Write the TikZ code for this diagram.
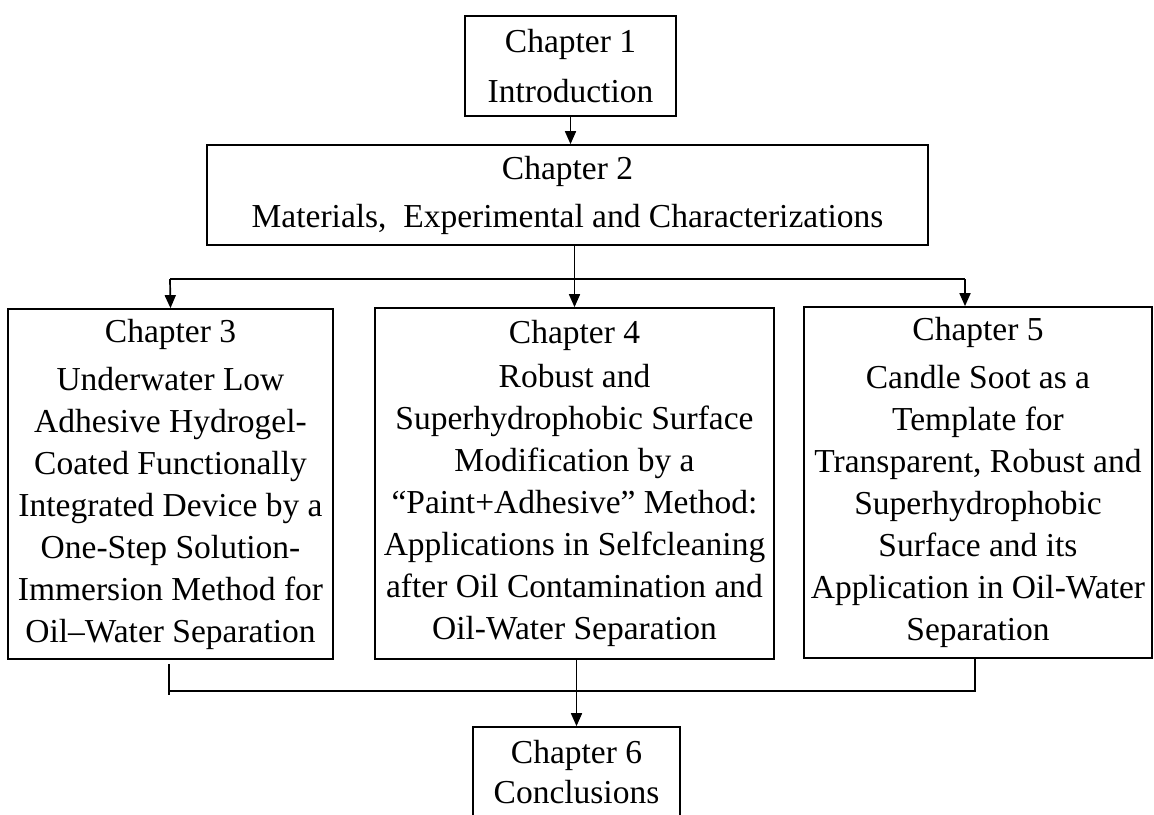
\documentclass[tikz,border=0pt]{standalone}
\usepackage{fontspec}
\setmainfont{Liberation Serif}
\usetikzlibrary{arrows.meta,positioning}

\begin{document}
\begin{tikzpicture}[x=1pt,y=-1pt,
        chap/.style={draw,line width=1.7pt,inner sep=0pt,align=center,font=\fontsize{33.5}{42}\selectfont},
        arr/.style={-{Triangle[length=13pt,width=11pt]}}]
            \clip (0,0) rectangle (1154,814);

            \node[chap,minimum width=211,minimum height=100,font=\fontsize{33.5}{50}\selectfont] (ch1) at (570.5,66) {Chapter 1\\Introduction};
            \node[chap,minimum width=721,minimum height=100,font=\fontsize{33.5}{48}\selectfont] (ch2) at (567.5,195) {Chapter 2\\Materials,~ Experimental and Characterizations};

            \node[chap,minimum width=325,minimum height=350] (ch3) at (170.5,484) {Chapter 3\\[6pt]Underwater Low\\Adhesive Hydrogel-\\Coated Functionally\\Integrated Device by a\\One-Step Solution-\\Immersion Method for\\Oil–Water Separation};
            \node[chap,minimum width=399,minimum height=351] (ch4) at (574.5,483.5) {Chapter 4\\[2pt]Robust and\\Superhydrophobic Surface\\Modification by a\\“Paint+Adhesive” Method:\\Applications in Selfcleaning\\after Oil Contamination and\\Oil-Water Separation};
            \node[chap,minimum width=348,minimum height=351] (ch5) at (978,482.5) {Chapter 5\\[6pt]Candle Soot as a\\Template for\\Transparent, Robust and\\Superhydrophobic\\Surface and its\\Application in Oil-Water\\Separation};

            \node[chap,minimum width=207,minimum height=90,font=\fontsize{33.5}{40}\selectfont] (ch6) at (576.5,772) {Chapter 6\\Conclusions};

            \coordinate (tl) at (170,279);
            \coordinate (tr) at (965,279);
            \coordinate (bl) at (169,691);
            \coordinate (br) at (975,691);

            \begin{scope}[line width=1.7pt]
                \draw[arr] (ch1.south) -- (ch1.south |- ch2.north);
                \draw[arr] (ch4.north |- ch2.south) -- (ch4.north);
                \draw (tl) -- (tr);
                \draw[arr] (tl) -- (ch3.north);
                \draw[arr] (tr) -- (tr |- ch5.north);
                \draw ([yshift=-4pt]ch3.south -| bl) -- ([yshift=-4pt]bl);
                \draw (bl) -- (br) -- (br |- ch5.south);
                \draw[arr] (ch6.north |- ch4.south) -- (ch6.north);
            \end{scope}
        \end{tikzpicture}
\end{document}
